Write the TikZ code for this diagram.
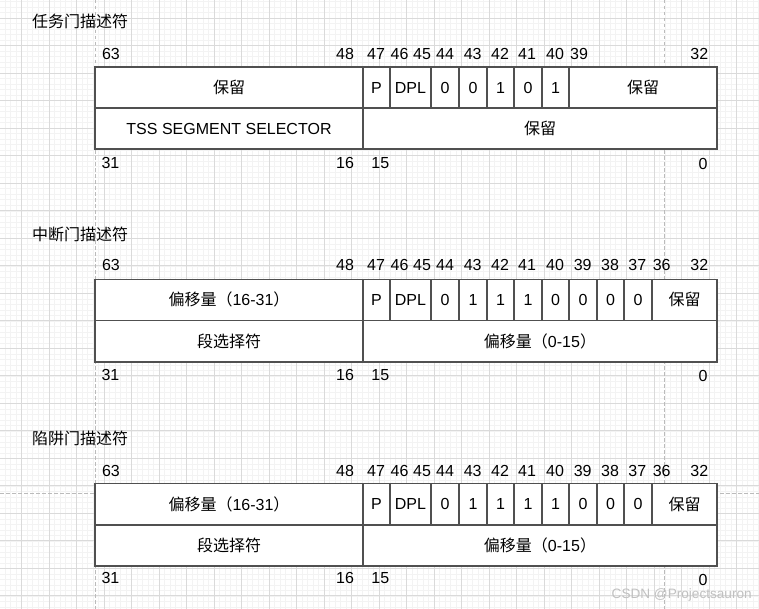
\documentclass[tikz,border=0pt]{standalone}
\usepackage{fontspec}
\setmainfont{Liberation Sans}
\newfontfamily\cjk{Noto Sans CJK SC}
\definecolor{gridmajor}{HTML}{DADADA}
\definecolor{gridminor}{HTML}{F3F3F3}
\definecolor{pagebrk}{HTML}{BBBBBB}
\definecolor{cellline}{HTML}{505050}
\definecolor{wmark}{HTML}{C0C0C0}
\tikzset{
  minorline/.style={draw=gridminor, line width=0.6bp},
  majorline/.style={draw=gridmajor, line width=0.9bp},
  pageline/.style={draw=pagebrk, line width=1bp, dash pattern=on 3.5bp off 2.5bp},
  cell/.style={draw=cellline, line width=1.1bp, fill=white, inner sep=0pt, outer sep=0pt,
    font=\fontsize{16bp}{19bp}\selectfont, text=black},
  bitlbl/.style={inner sep=0pt, text height=11.5bp, text depth=0pt,
    font=\fontsize{16bp}{19bp}\selectfont, text=black},
  ttl/.style={inner sep=0pt, anchor=west, font=\fontsize{16bp}{19bp}\selectfont\cjk, text=black},
  wm/.style={inner sep=0pt, font=\fontsize{13.6bp}{16bp}\selectfont, text=wmark}
}
\newcommand\cellbox[6]{%
  \node[cell, minimum width=#3bp-#2bp, minimum height=#5bp-#4bp] (#1) at ({(#2+#3)/2},{(#4+#5)/2}) {#6};}
\newcommand\offhi{{\cjk 偏移量（}16-31{\cjk ）}}
\newcommand\offlo{{\cjk 偏移量（}0-15{\cjk ）}}
\begin{document}
\begin{tikzpicture}[x=1bp, y=-1bp]
\useasboundingbox (0,0) rectangle (759,609);
\fill[white] (0,0) rectangle (759,609);
% background grid
\foreach \i in {0,...,138} {\draw[minorline] ({-0.5+5.5*\i},0) -- ({-0.5+5.5*\i},609);}
\foreach \i in {0,...,110} {\draw[minorline] (0,{1.8+5.5*\i}) -- (759,{1.8+5.5*\i});}
\foreach \i in {0,...,26} {\draw[majorline] ({21.5+27.5*\i},0) -- ({21.5+27.5*\i},609);}
\foreach \i in {0,...,21} {\draw[majorline] (0,{18.3+27.5*\i}) -- (759,{18.3+27.5*\i});}
% page break lines
\coordinate (pv1a) at (95.6,0);  \coordinate (pv1b) at (95.6,609);
\coordinate (pv2a) at (664,0);   \coordinate (pv2b) at (664,609);
\coordinate (ph1a) at (0,493.3); \coordinate (ph1b) at (759,493.3);
\draw[pageline] (pv1a) -- (pv1b);
\draw[pageline] (pv2a) -- (pv2b);
\draw[pageline] (ph1a) -- (ph1b);

% ---------------- Task gate ----------------
\node[ttl] (title1) at (32,21.5) {任务门描述符};
\cellbox{a1}{95}{363}{67}{108}{{\cjk 保留}}
\cellbox{a2}{363}{390}{67}{108}{P}
\cellbox{a3}{390}{431}{67}{108}{DPL}
\cellbox{a4}{431}{459}{67}{108}{0}
\cellbox{a5}{459}{487}{67}{108}{0}
\cellbox{a6}{487}{514}{67}{108}{1}
\cellbox{a7}{514}{542}{67}{108}{0}
\cellbox{a8}{542}{569}{67}{108}{1}
\cellbox{a9}{569}{717}{67}{108}{{\cjk 保留}}
\cellbox{a10}{95}{363}{108}{149}{TSS SEGMENT SELECTOR}
\cellbox{a11}{363}{717}{108}{149}{{\cjk 保留}}
\foreach \x/\t in {111/63,345/48,376/47,399.5/46,422/45,445/44,472.7/43,500/42,527/41,555/40,579/39,699.3/32}
  {\node[bitlbl] (at\t) at (\x,53.5) {\t};}
\foreach \x/\t in {110.5/31,345/16,380.3/15}
  {\node[bitlbl] (ab\t) at (\x,162.5) {\t};}
\node[bitlbl] (ab0) at (703,163.5) {0};

% ---------------- Interrupt gate ----------------
\node[ttl] (title2) at (32,234) {中断门描述符};
\cellbox{b1}{95}{363}{279.3}{320.3}{\offhi}
\cellbox{b2}{363}{390}{279.3}{320.3}{P}
\cellbox{b3}{390}{431}{279.3}{320.3}{DPL}
\cellbox{b4}{431}{459}{279.3}{320.3}{0}
\cellbox{b5}{459}{487}{279.3}{320.3}{1}
\cellbox{b6}{487}{514}{279.3}{320.3}{1}
\cellbox{b7}{514}{542}{279.3}{320.3}{1}
\cellbox{b8}{542}{569}{279.3}{320.3}{0}
\cellbox{b9}{569}{597}{279.3}{320.3}{0}
\cellbox{b10}{597}{624}{279.3}{320.3}{0}
\cellbox{b11}{624}{652}{279.3}{320.3}{0}
\cellbox{b12}{652}{717}{279.3}{320.3}{{\cjk 保留}}
\cellbox{b13}{95}{363}{320.3}{362}{{\cjk 段选择符}}
\cellbox{b14}{363}{717}{320.3}{362}{\offlo}
\foreach \x/\t in {111/63,345/48,376/47,399.5/46,422/45,445/44,472.7/43,500/42,527/41,555/40,582.7/39,610/38,637.3/37,661.7/36,699.3/32}
  {\node[bitlbl] (bt\t) at (\x,265) {\t};}
\foreach \x/\t in {110.5/31,345/16,380.3/15}
  {\node[bitlbl] (bb\t) at (\x,374.3) {\t};}
\node[bitlbl] (bb0) at (703,375.5) {0};

% ---------------- Trap gate ----------------
\node[ttl] (title3) at (32,438.5) {陷阱门描述符};
\cellbox{c1}{95}{363}{483.3}{525}{\offhi}
\cellbox{c2}{363}{390}{483.3}{525}{P}
\cellbox{c3}{390}{431}{483.3}{525}{DPL}
\cellbox{c4}{431}{459}{483.3}{525}{0}
\cellbox{c5}{459}{487}{483.3}{525}{1}
\cellbox{c6}{487}{514}{483.3}{525}{1}
\cellbox{c7}{514}{542}{483.3}{525}{1}
\cellbox{c8}{542}{569}{483.3}{525}{1}
\cellbox{c9}{569}{597}{483.3}{525}{0}
\cellbox{c10}{597}{624}{483.3}{525}{0}
\cellbox{c11}{624}{652}{483.3}{525}{0}
\cellbox{c12}{652}{717}{483.3}{525}{{\cjk 保留}}
\cellbox{c13}{95}{363}{525}{566}{{\cjk 段选择符}}
\cellbox{c14}{363}{717}{525}{566}{\offlo}
\foreach \x/\t in {111/63,345/48,376/47,399.5/46,422/45,445/44,472.7/43,500/42,527/41,555/40,582.7/39,610/38,637.3/37,661.7/36,699.3/32}
  {\node[bitlbl] (ct\t) at (\x,471) {\t};}
\foreach \x/\t in {110.5/31,345/16,380.3/15}
  {\node[bitlbl] (cb\t) at (\x,578) {\t};}
\node[bitlbl] (cb0) at (703,580) {0};

% watermark
\node[wm] (wmark) at (681.7,595) {CSDN @Projectsauron};
\end{tikzpicture}
\end{document}
